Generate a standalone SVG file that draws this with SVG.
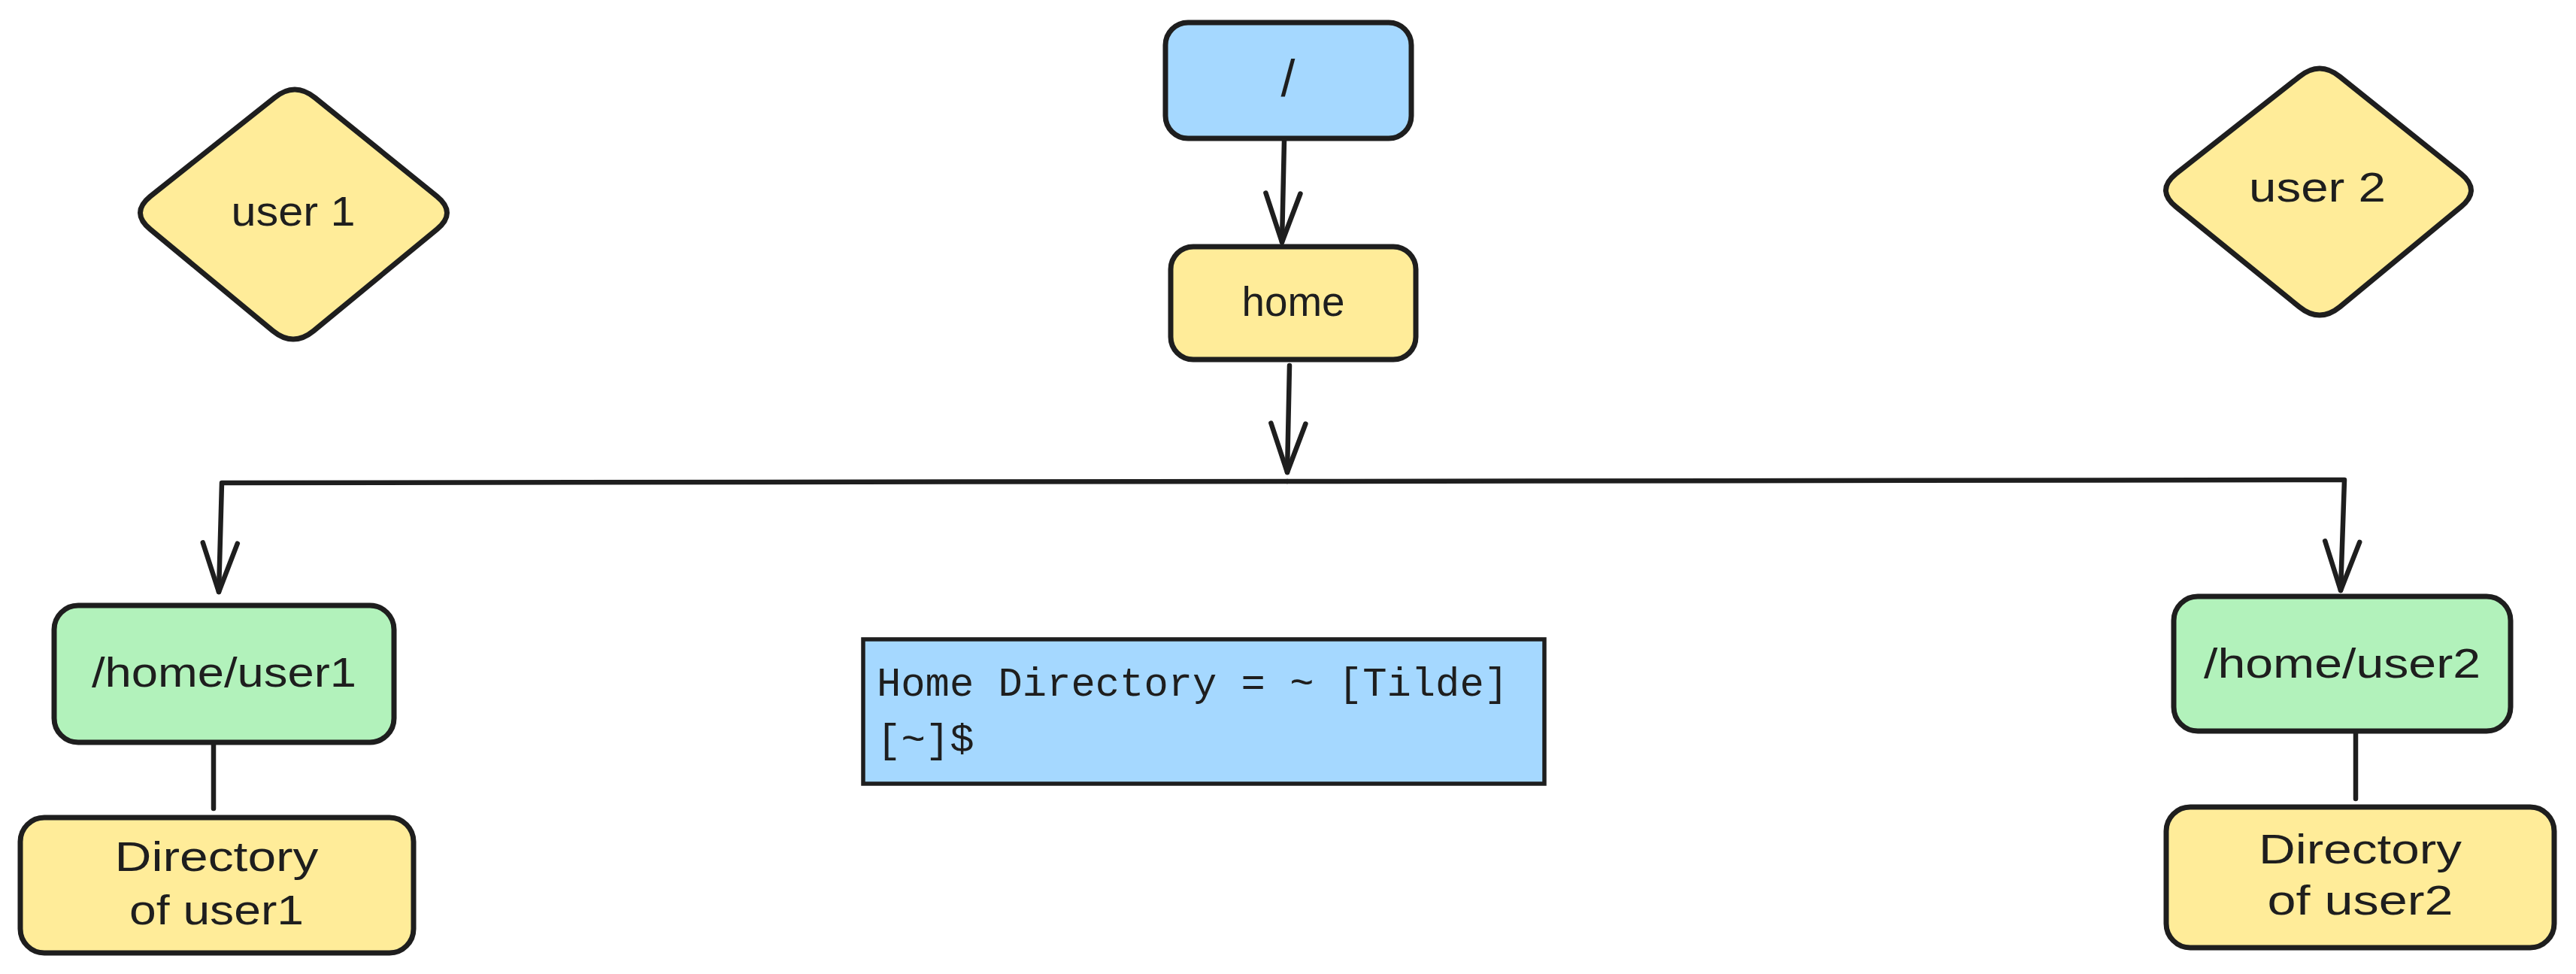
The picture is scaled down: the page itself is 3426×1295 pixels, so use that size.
<svg xmlns="http://www.w3.org/2000/svg" width="3426" height="1295" viewBox="0 0 3426 1295">
<style>
.box{stroke:#1e1e1e;stroke-width:7;stroke-linejoin:round}
.yel{fill:#ffec99}
.blu{fill:#a5d8ff}
.grn{fill:#b2f2bb}
.lbl{font-family:"Liberation Sans","DejaVu Sans",sans-serif;font-size:56px;fill:#1e1e1e;text-anchor:middle}
.mono{font-family:"Liberation Mono","DejaVu Sans Mono",monospace;font-size:54px;fill:#1e1e1e}
.con{fill:none;stroke:#1e1e1e;stroke-width:6.5;stroke-linecap:round;stroke-linejoin:round}
</style>
<defs>
<marker id="ah" markerUnits="userSpaceOnUse" viewBox="-80 -40 90 80" refX="0" refY="0" markerWidth="90" markerHeight="80" orient="auto" overflow="visible">
<path d="M -65 -23 L 0 0 L -65 23" fill="none" stroke="#1e1e1e" stroke-width="6.5" stroke-linecap="round" stroke-linejoin="round"/>
</marker>
</defs>
<rect width="3426" height="1295" fill="#ffffff"/>
<g id="connectors">
<path class="con" d="M 1708 186 L 1705 322" marker-end="url(#ah)"/>
<path class="con" d="M 1715 486 L 1712 628" marker-end="url(#ah)"/>
<path class="con" d="M 1712 640 L 295 642 L 291 787" marker-end="url(#ah)"/>
<path class="con" d="M 1712 640 L 3118 638 L 3113 785" marker-end="url(#ah)"/>
<path class="con" d="M 284 988 L 284 1075"/>
<path class="con" d="M 3133 972 L 3133 1062"/>
</g>
<g id="node-root">
<rect class="box blu" x="1550" y="30" width="327" height="154" rx="30"/>
<text class="lbl" x="1713" y="128" style="font-size:68px">/</text>
</g>
<g id="node-home">
<rect class="box yel" x="1557" y="328" width="326" height="150" rx="30"/>
<text class="lbl" x="1720" y="420" textLength="137" lengthAdjust="spacingAndGlyphs">home</text>
</g>
<g id="node-user1">
<path class="box yel" d="M 200,261 L 365,130 Q 392,108 419,130 L 581,261 Q 608,283 581,305 L 417,440 Q 390,462 363,440 L 200,305 Q 173,283 200,261 Z"/>
<text class="lbl" x="390" y="300" textLength="165" lengthAdjust="spacingAndGlyphs">user 1</text>
</g>
<g id="node-user2">
<path class="box yel" d="M 2894,231 L 3058,102 Q 3085,80 3112,102 L 3273,231 Q 3300,253 3273,275 L 3112,408 Q 3085,430 3058,408 L 2894,275 Q 2867,253 2894,231 Z"/>
<text class="lbl" x="3082" y="268" textLength="182" lengthAdjust="spacingAndGlyphs">user 2</text>
</g>
<g id="node-home-user1">
<rect class="box grn" x="72" y="805" width="452" height="182" rx="32"/>
<text class="lbl" x="298" y="913" textLength="352" lengthAdjust="spacingAndGlyphs">/home/user1</text>
</g>
<g id="node-dir-user1">
<rect class="box yel" x="27" y="1087" width="523" height="180" rx="32"/>
<text class="lbl" x="288" y="1158" textLength="271" lengthAdjust="spacingAndGlyphs">Directory</text>
<text class="lbl" x="288" y="1229" textLength="232" lengthAdjust="spacingAndGlyphs">of user1</text>
</g>
<g id="node-home-user2">
<rect class="box grn" x="2891" y="793" width="448" height="179" rx="32"/>
<text class="lbl" x="3115" y="901" textLength="368" lengthAdjust="spacingAndGlyphs">/home/user2</text>
</g>
<g id="node-dir-user2">
<rect class="box yel" x="2881" y="1073" width="516" height="187" rx="32"/>
<text class="lbl" x="3139" y="1148" textLength="270" lengthAdjust="spacingAndGlyphs">Directory</text>
<text class="lbl" x="3139" y="1216" textLength="247" lengthAdjust="spacingAndGlyphs">of user2</text>
</g>
<g id="node-note">
<rect x="1148" y="850" width="906" height="192" fill="#a5d8ff" stroke="#1e1e1e" stroke-width="5.5"/>
<text class="mono" x="1166" y="925" textLength="840" lengthAdjust="spacingAndGlyphs">Home Directory = ~ [Tilde]</text>
<text class="mono" x="1166" y="1000">[~]$</text>
</g>
</svg>
